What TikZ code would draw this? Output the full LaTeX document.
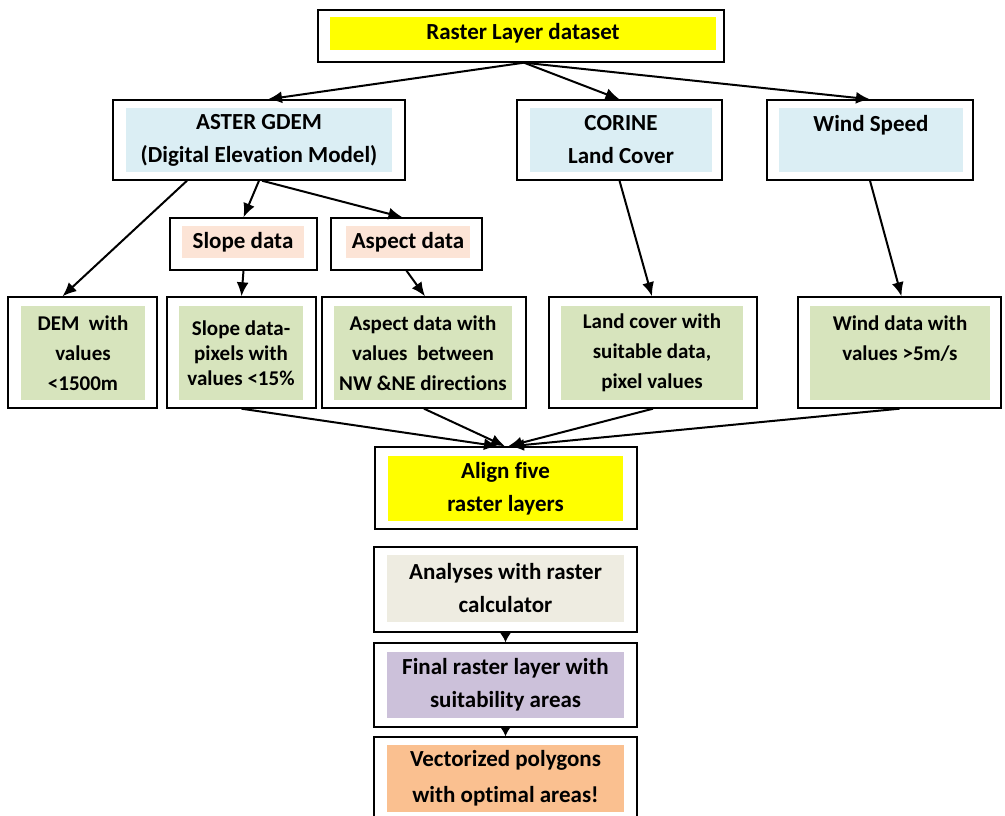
\documentclass[tikz,border=0pt]{standalone}
\usepackage{fontspec}
\setmainfont{Carlito}[Ligatures=NoCommon]
\usetikzlibrary{positioning,arrows.meta}

\definecolor{hdryellow}{HTML}{FFFF00}
\definecolor{srcblue}{HTML}{DBEEF4}
\definecolor{subpeach}{HTML}{FCE4D6}
\definecolor{resgreen}{HTML}{D7E4BD}
\definecolor{calcbeige}{HTML}{EEECE1}
\definecolor{finpurple}{HTML}{CCC1DA}
\definecolor{outorange}{HTML}{FAC090}

\tikzset{
  frame/.style={draw, line width=1.4pt, fill=white, inner sep=0pt},
  fillbox/.style={inner sep=0pt, align=center, font=\bfseries\fontsize{23}{33}\selectfont},
  greenbox/.style={fillbox, fill=resgreen, minimum width=124, minimum height=94, font=\bfseries\fontsize{21}{30}\selectfont},
  flow/.style={-{Latex[length=14pt,width=12pt]}, line width=2pt},
  shortflow/.style={-{Latex[length=10pt,width=12pt]}, line width=2pt},
}

\begin{document}
\begin{tikzpicture}[x=1pt, y=-1pt]
\useasboundingbox (0,0) rectangle (1005,816);

% source
\node[frame, minimum width=406, minimum height=52] (raster) at (521,36) {};
\node[fillbox, fill=hdryellow, minimum width=386, minimum height=33] (rasterT) at (523,33.5) {Raster Layer dataset};

% datasets
\node[frame, minimum width=292, minimum height=80] (aster) at (259,140) {};
\node[fillbox, fill=srcblue, minimum width=266, minimum height=64] (asterT) at (259,140) {ASTER GDEM\\(Digital Elevation Model)};
\node[frame, minimum width=205, minimum height=80] (corine) at (619.5,140) {};
\node[fillbox, fill=srcblue, minimum width=182, minimum height=64] (corineT) at (621,140) {CORINE\\Land Cover};
\node[frame, minimum width=206, minimum height=80] (wind) at (870,140) {};
\node[fillbox, fill=srcblue, minimum width=184, minimum height=64] (windT) at (871,140) {Wind Speed\\\mbox{}};

% derived from DEM
\node[frame, minimum width=147, minimum height=52] (slope) at (243.5,244) {};
\node[fillbox, fill=subpeach, minimum width=122, minimum height=32] (slopeT) at (243,242) {Slope data};
\node[frame, minimum width=151, minimum height=52] (aspect) at (406.5,244) {};
\node[fillbox, fill=subpeach, minimum width=124, minimum height=32] (aspectT) at (408,242) {Aspect data};

% criteria layers
\node[frame, minimum width=149, minimum height=111] (dem) at (82.5,352.5) {};
\node[greenbox] (demT) at (83,353) {DEM\ \ with\\values\\<1500m};
\node[frame, minimum width=149, minimum height=111] (slopepix) at (241.5,352.5) {};
\node[greenbox, font=\bfseries\fontsize{21}{25}\selectfont] (slopepixT) at (241,353) {Slope data-\\pixels with\\values <15\%};
\node[frame, minimum width=204, minimum height=111] (aspectval) at (424,352.5) {};
\node[greenbox, minimum width=178] (aspectvalT) at (423,353) {Aspect data with\\values\ \ between\\NW \&NE directions};
\node[frame, minimum width=208, minimum height=111] (landcov) at (653,352.5) {};
\node[greenbox, minimum width=182] (landcovT) at (652,353) {Land cover with\\suitable data,\\pixel values};
\node[frame, minimum width=203, minimum height=111] (winddata) at (899.5,352.5) {};
\node[greenbox, minimum width=180] (winddataT) at (900,353) {Wind data with\\values >5m/s\\\mbox{}};

% processing chain
\node[frame, minimum width=262, minimum height=82] (align) at (506,488) {};
\node[fillbox, fill=hdryellow, minimum width=235, minimum height=65] (alignT) at (505.5,488.5) {Align five\\raster layers};
\node[frame, minimum width=263, minimum height=85] (analyses) at (505.5,589.5) {};
\node[fillbox, fill=calcbeige, minimum width=237, minimum height=67] (analysesT) at (505.5,588.5) {Analyses with raster\\calculator};
\node[frame, minimum width=263, minimum height=84] (final) at (505.5,685) {};
\node[fillbox, fill=finpurple, minimum width=237, minimum height=66] (finalT) at (505.5,684.5) {Final raster layer with\\suitability areas};
\node[frame, minimum width=263, minimum height=88] (vector) at (505.5,781) {};
\node[fillbox, fill=outorange, minimum width=237, minimum height=67, font=\bfseries\fontsize{23}{36}\selectfont] (vectorT) at (505.5,778.5) {Vectorized polygons\\with optimal areas!};

% connectors
\draw[flow] ([xshift=3]raster.south) -- ([xshift=9]aster.north);
\draw[flow] ([xshift=3]raster.south) -- (corine.north);
\draw[flow] ([xshift=3]raster.south) -- (wind.north);
\draw[flow] ([xshift=-72]aster.south) -- ([xshift=-20]dem.north);
\draw[flow] (aster.south) -- (slope.north);
\draw[flow] ([xshift=3]aster.south) -- ([xshift=-4]aspect.north);
\draw[flow] (slope.south) -- (slopepix.north);
\draw[flow] (aspect.south) -- ([xshift=1]aspectval.north);
\draw[flow] (corine.south) -- ([xshift=-1]landcov.north);
\draw[flow] (wind.south) -- ([xshift=2]winddata.north);
\draw[flow] (slopepix.south) -- ([xshift=-8]align.north);
\draw[flow] (aspectval.south) -- ([xshift=-1]align.north);
\draw[flow] (landcov.south) -- ([xshift=2]align.north);
\draw[flow] (winddata.south) -- ([xshift=4]align.north);
\draw[shortflow] (analyses.south) -- (final.north);
\draw[shortflow] (final.south) -- (vector.north);
\end{tikzpicture}
\end{document}
